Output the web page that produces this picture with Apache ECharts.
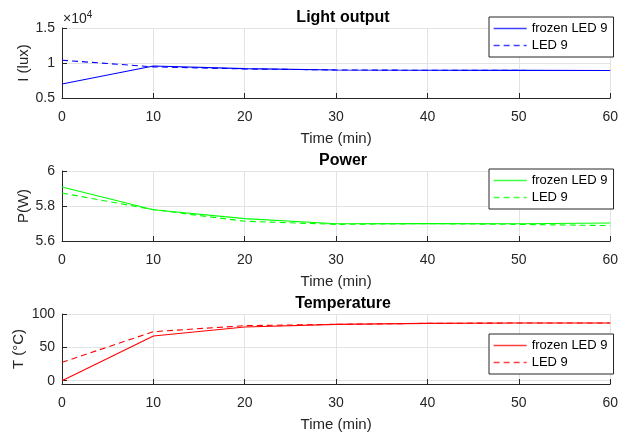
<!DOCTYPE html>
<html><head><meta charset="utf-8">
<script src="https://cdn.jsdelivr.net/npm/echarts@6/dist/echarts.min.js"></script>
<style>html,body{margin:0;padding:0;background:#fff}#c{width:621px;height:433px}</style>
</head><body><div id="c"></div>
<script>
const time = [0, 10, 20, 30, 40, 50, 60];
const lightFrozen = [7000, 9570, 9190, 9000, 8960, 8950, 8920];
const lightLED = [10400, 9450, 9150, 9010, 8960, 8940, 8920];
const powerFrozen = [5.909, 5.779, 5.728, 5.699, 5.700, 5.699, 5.703];
const powerLED = [5.874, 5.779, 5.713, 5.695, 5.699, 5.695, 5.688];
const tempFrozen = [0, 67, 80.5, 84.5, 86, 86.5, 86.5];
const tempLED = [27.5, 73.5, 82.5, 84.5, 86, 86.5, 86.5];
const titles = ['Light output', 'Power', 'Temperature'];
const yNames = ['I (lux)', 'P(W)', 'T (°C)'];
const xName = 'Time (min)';
const legendNames = ['frozen LED 9', 'LED 9'];

const FONT = 'Liberation Sans, Arial, Helvetica, sans-serif';
const TXT = '#262626';
const tops = [28, 171, 314];
const H = 70;
const L = 62, W = 552;
const colors = ['#0000ff', '#00ff00', '#ff0000'];
const sets = [[lightFrozen, lightLED], [powerFrozen, powerLED], [tempFrozen, tempLED]];
const legendTops = [17, 169, 334];
const yNameGaps = [31, 31, 36];

const grid = tops.map(t => ({left: L, top: t, width: W, height: H}));
const xAxis = tops.map((t, i) => ({
  type: 'value', gridIndex: i, min: 0, max: 60, interval: 10,
  name: xName, nameLocation: 'middle', nameGap: 33, nameMoveOverlap: false,
  nameTextStyle: {color: TXT, fontSize: 15, fontFamily: FONT},
  axisLine: {show: true, onZero: false, lineStyle: {color: TXT, width: 1}},
  axisTick: {show: true, inside: true, length: 5, lineStyle: {color: TXT}},
  axisLabel: {color: TXT, fontSize: 14, fontFamily: FONT, margin: 12},
  splitLine: {show: true, lineStyle: {color: '#e3e3e3', width: 1}}
}));
const yCommon = (i) => ({
  type: 'value', gridIndex: i,
  name: yNames[i], nameLocation: 'middle', nameGap: yNameGaps[i], nameRotate: 90,
  nameMoveOverlap: false,
  nameTextStyle: {color: TXT, fontSize: 15, fontFamily: FONT},
  axisLine: {show: true, onZero: false, lineStyle: {color: TXT, width: 1}},
  axisTick: {show: true, inside: true, length: 5, lineStyle: {color: TXT}},
  axisLabel: {color: TXT, fontSize: 14, fontFamily: FONT, margin: 7},
  splitLine: {show: true, lineStyle: {color: '#e3e3e3', width: 1}}
});
const y0 = Object.assign(yCommon(0), {min: 5000, max: 15000, interval: 5000});
y0.axisLabel.formatter = v => String(v / 10000);
const y1 = Object.assign(yCommon(1), {min: 5.6, max: 6.0, interval: 0.2});
y1.axisLabel.formatter = v => String(Math.round(v * 10) / 10);
const y2 = Object.assign(yCommon(2), {min: -5, max: 100});
y2.axisTick.customValues = [0, 50, 100];
y2.axisLabel.customValues = [0, 50, 100];
const yAxis = [y0, y1, y2];

const prefixes = ['I', 'P', 'T'];
const series = [];
sets.forEach((pair, i) => {
  pair.forEach((vals, j) => {
    series.push({
      type: 'line', name: prefixes[i] + '|' + legendNames[j],
      xAxisIndex: i, yAxisIndex: i, symbol: 'none', silent: true,
      data: time.map((t, k) => [t, vals[k]]),
      lineStyle: {color: colors[i], width: 1.1, type: j === 0 ? 'solid' : [6, 4]},
      itemStyle: {color: colors[i]},
      z: j === 0 ? 3 : 2
    });
  });
});

const title = titles.map((t, i) => ({
  text: t, left: L + W / 2, top: tops[i] - 23, textAlign: 'center',
  textStyle: {fontSize: 16, fontWeight: 'bold', color: '#000', fontFamily: FONT}
}));

const legend = legendTops.map((t, i) => ({
  data: legendNames.map(n => prefixes[i] + '|' + n),
  formatter: n => n.split('|')[1],
  orient: 'vertical', left: 489, top: t, width: 125,
  itemWidth: 33, itemHeight: 14, itemGap: 4,
  padding: [5, 6, 5, 4],
  itemStyle: {opacity: 0},
  lineStyle: {width: 1.3, color: 'inherit', type: 'inherit', opacity: 0.75},
  backgroundColor: '#fff', borderColor: TXT, borderWidth: 1, borderRadius: 0,
  textStyle: {color: '#000', fontSize: 13, fontFamily: FONT},
  selectedMode: false
}));

const chart = echarts.init(document.getElementById('c'), null, {renderer: 'canvas'});
chart.setOption({
  animation: false,
  backgroundColor: '#fff',
  title, legend, grid, xAxis, yAxis, series,
  graphic: [{
    type: 'text', left: 63, top: 10,
    style: {
      text: '{a|×10}{b|4}',
      rich: {
        a: {fontSize: 14, fill: TXT, fontFamily: FONT},
        b: {fontSize: 10, fill: TXT, fontFamily: FONT, verticalAlign: 'top', padding: [0, 0, 8, 0]}
      }
    }
  }]
});
</script></body></html>
